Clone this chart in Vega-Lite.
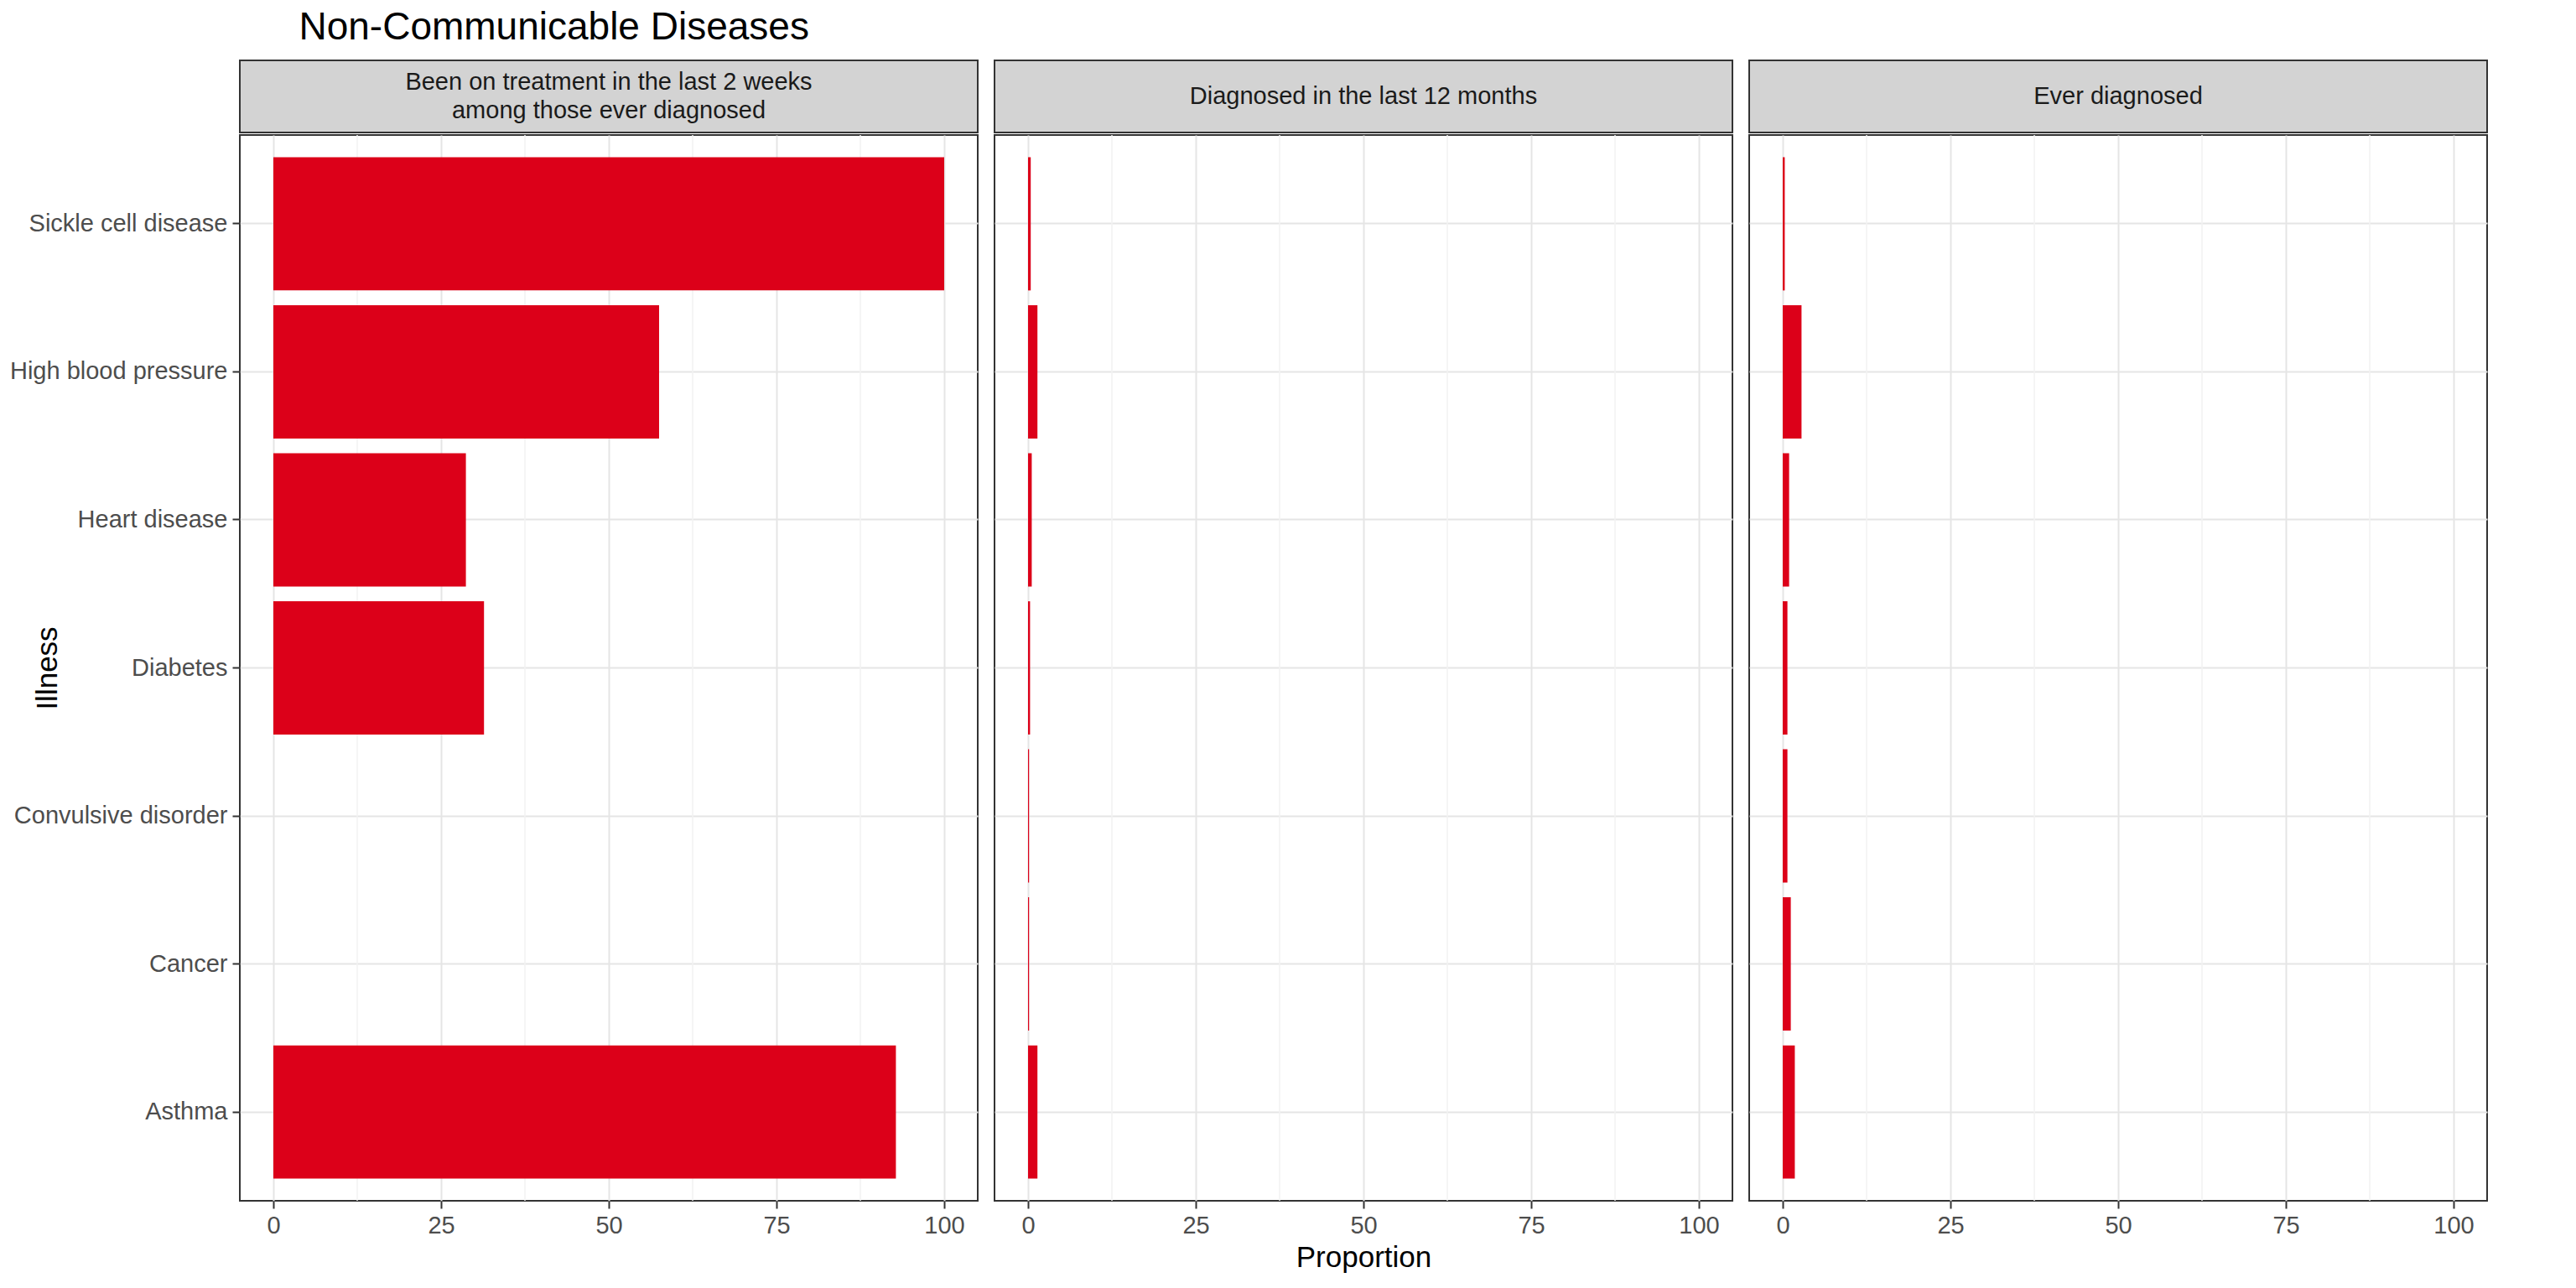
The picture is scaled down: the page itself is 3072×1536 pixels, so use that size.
{
"$schema":"https://vega.github.io/schema/vega-lite/v6.json",
"padding":{"left":10,"top":10,"right":10,"bottom":10},
"background":"white",
"config":{"font":"Liberation Sans","view":{"stroke":"#333333","strokeWidth":2},"concat":{"spacing":18},
 "axis":{"labelFontSize":29,"labelLimit":0,"labelColor":"#4d4d4d","titleFontSize":35,"titleFontWeight":"normal","titleColor":"#000","tickColor":"#333","tickSize":9,"tickWidth":2,"domain":false,"gridColor":"#e5e5e5","gridWidth":2,"labelPadding":6}},
"title":{"text":"Non-Communicable Diseases","fontSize":46,"fontWeight":"normal","anchor":"start","offset":14,"dx":346,"color":"#000"},
"datasets":{
 "d":[
  {"panel":"p1","illness":"Sickle cell disease","value":100},
  {"panel":"p1","illness":"High blood pressure","value":57.5},
  {"panel":"p1","illness":"Heart disease","value":28.7},
  {"panel":"p1","illness":"Diabetes","value":31.4},
  {"panel":"p1","illness":"Convulsive disorder","value":0},
  {"panel":"p1","illness":"Cancer","value":0},
  {"panel":"p1","illness":"Asthma","value":92.8},
  {"panel":"p2","illness":"Sickle cell disease","value":0.4},
  {"panel":"p2","illness":"High blood pressure","value":1.4},
  {"panel":"p2","illness":"Heart disease","value":0.55},
  {"panel":"p2","illness":"Diabetes","value":0.3},
  {"panel":"p2","illness":"Convulsive disorder","value":0.15},
  {"panel":"p2","illness":"Cancer","value":0.15},
  {"panel":"p2","illness":"Asthma","value":1.4},
  {"panel":"p3","illness":"Sickle cell disease","value":0.3},
  {"panel":"p3","illness":"High blood pressure","value":2.8},
  {"panel":"p3","illness":"Heart disease","value":0.95},
  {"panel":"p3","illness":"Diabetes","value":0.7},
  {"panel":"p3","illness":"Convulsive disorder","value":0.7},
  {"panel":"p3","illness":"Cancer","value":1.2},
  {"panel":"p3","illness":"Asthma","value":1.8}
 ],
 "minor":[{"x":12.5},{"x":37.5},{"x":62.5},{"x":87.5}]
},
"hconcat":[
 {"spacing":0,"vconcat":[
  {"width":880,"height":86,"view":{"fill":"#d3d3d3","stroke":"#333333","strokeWidth":2},
   "data":{"values":[{"t":"Been on treatment in the last 2 weeks\namong those ever diagnosed"}]},
   "mark":{"type":"text","fontSize":29,"color":"#1a1a1a","lineBreak":"\n","baseline":"middle","lineHeight":34,"dy":-17},
   "encoding":{"text":{"field":"t"}}},
  {"width":880,"height":1271,"layer":[
   {"data":{"name":"minor"},"mark":{"type":"rule","color":"#f2f2f2","strokeWidth":1.5},"encoding":{"x":{"field":"x","type":"quantitative","scale":{"domain":[-5,105],"nice":false}}}},
   {"data":{"name":"d"},"transform":[{"filter":"datum.panel==='p1'"}],"mark":{"type":"bar","color":"#dc0019"},
    "encoding":{
     "y":{"field":"illness","type":"nominal","sort":["Sickle cell disease","High blood pressure","Heart disease","Diabetes","Convulsive disorder","Cancer","Asthma"],"scale":{"paddingInner":0.1,"paddingOuter":0.15},"axis":{"title":"Illness","grid":true,"titlePadding":12}},
     "x":{"field":"value","type":"quantitative","scale":{"domain":[-5,105],"nice":false},"axis":{"values":[0,25,50,75,100],"title":null,"grid":true}}}}
  ]}
 ]},
 {"spacing":0,"vconcat":[
  {"width":880,"height":86,"view":{"fill":"#d3d3d3","stroke":"#333333","strokeWidth":2},
   "data":{"values":[{"t":"Diagnosed in the last 12 months"}]},
   "mark":{"type":"text","fontSize":29,"color":"#1a1a1a","baseline":"middle"},
   "encoding":{"text":{"field":"t"}}},
  {"width":880,"height":1271,"layer":[
   {"data":{"name":"minor"},"mark":{"type":"rule","color":"#f2f2f2","strokeWidth":1.5},"encoding":{"x":{"field":"x","type":"quantitative","scale":{"domain":[-5,105],"nice":false}}}},
   {"data":{"name":"d"},"transform":[{"filter":"datum.panel==='p2'"}],"mark":{"type":"bar","color":"#dc0019"},
    "encoding":{
     "y":{"field":"illness","type":"nominal","sort":["Sickle cell disease","High blood pressure","Heart disease","Diabetes","Convulsive disorder","Cancer","Asthma"],"scale":{"paddingInner":0.1,"paddingOuter":0.15},"axis":{"title":null,"grid":true,"labels":false,"ticks":false}},
     "x":{"field":"value","type":"quantitative","scale":{"domain":[-5,105],"nice":false},"axis":{"values":[0,25,50,75,100],"title":"Proportion","grid":true,"titlePadding":6}}}}
  ]}
 ]},
 {"spacing":0,"vconcat":[
  {"width":880,"height":86,"view":{"fill":"#d3d3d3","stroke":"#333333","strokeWidth":2},
   "data":{"values":[{"t":"Ever diagnosed"}]},
   "mark":{"type":"text","fontSize":29,"color":"#1a1a1a","baseline":"middle"},
   "encoding":{"text":{"field":"t"}}},
  {"width":880,"height":1271,"layer":[
   {"data":{"name":"minor"},"mark":{"type":"rule","color":"#f2f2f2","strokeWidth":1.5},"encoding":{"x":{"field":"x","type":"quantitative","scale":{"domain":[-5,105],"nice":false}}}},
   {"data":{"name":"d"},"transform":[{"filter":"datum.panel==='p3'"}],"mark":{"type":"bar","color":"#dc0019"},
    "encoding":{
     "y":{"field":"illness","type":"nominal","sort":["Sickle cell disease","High blood pressure","Heart disease","Diabetes","Convulsive disorder","Cancer","Asthma"],"scale":{"paddingInner":0.1,"paddingOuter":0.15},"axis":{"title":null,"grid":true,"labels":false,"ticks":false}},
     "x":{"field":"value","type":"quantitative","scale":{"domain":[-5,105],"nice":false},"axis":{"values":[0,25,50,75,100],"title":null,"grid":true}}}}
  ]}
 ]}
]
}
